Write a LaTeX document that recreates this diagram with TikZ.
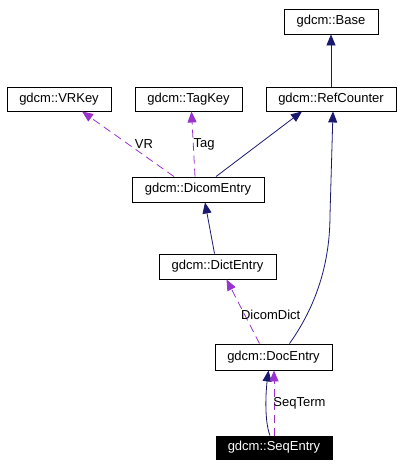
\documentclass[tikz,border=0pt]{standalone}
\usepackage{fontspec}
\setmainfont{Liberation Sans}
\usetikzlibrary{arrows.meta}

\begin{document}
\begin{tikzpicture}[x=1pt, y=-1pt,
    every node/.style={font=\fontsize{13}{15}\selectfont},
    cls/.style={draw, line width=0.9pt, minimum height=25pt, inner sep=0pt},
    inh/.style={draw={rgb,255:red,25;green,25;blue,112}, line width=0.8pt, -{Triangle[length=11pt, width=9pt]}},
    use/.style={draw={rgb,255:red,154;green,50;blue,205}, line width=0.8pt, dash pattern=on 8pt off 5pt, -{Triangle[length=11pt, width=9pt]}}]
    \useasboundingbox (0,0) rectangle (403,467);
    \node[cls, minimum width=94pt] (Base) at (331, 21.5) {gdcm::Base};
    \node[cls, minimum width=104pt, minimum height=24pt] (VRKey) at (59, 99) {gdcm::VRKey};
    \node[cls, minimum width=107pt, minimum height=24pt] (TagKey) at (188.5, 99) {gdcm::TagKey};
    \node[cls, minimum width=130pt, minimum height=24pt] (RC) at (331, 99) {gdcm::RefCounter};
    \node[cls, minimum width=132pt] (DE) at (198, 189.5) {gdcm::DicomEntry};
    \node[cls, minimum width=117pt] (Dict) at (217.5, 266.5) {gdcm::DictEntry};
    \node[cls, minimum width=117pt, minimum height=26pt] (Doc) at (273.5, 357) {gdcm::DocEntry};
    \node[cls, fill=black, text=white, minimum width=116pt, minimum height=23pt] (Seq) at (274, 447.5) {gdcm::SeqEntry};
    % inheritance
    \draw[inh] (RC.north) -- (Base.south);
    \draw[inh] ([xshift=18]DE.north) -- ([xshift=-29]RC.south);
    \draw[inh] ([xshift=-3]Dict.north) -- ([xshift=7]DE.south);
    \draw[inh] ([xshift=16]Doc.north) .. controls (312,312) and (330,270) .. (330,215) -- ([xshift=2]RC.south);
    \draw[inh] ([xshift=-4]Seq.north) .. controls (264,420) and (266,390) .. ([xshift=-5]Doc.south);
    % usage
    \draw[use] ([xshift=-24]DE.north) -- node[fill=white, inner sep=1pt, xshift=16pt] (lVR) {VR} ([xshift=23]VRKey.south);
    \draw[use] ([xshift=-3]DE.north) -- node[right, inner sep=1pt, xshift=-1pt] (lTag) {Tag} ([xshift=3]TagKey.south);
    \draw[use] ([xshift=-14]Doc.north) -- node[right, pos=0.45, inner sep=2pt, xshift=-6pt] (lDict) {DicomDict} ([xshift=9]Dict.south);
    \draw[use] (Seq.north) -- node[right, inner sep=2pt, xshift=-3pt] (lSeq) {SeqTerm} ([xshift=0.5]Doc.south);
\end{tikzpicture}
\end{document}
